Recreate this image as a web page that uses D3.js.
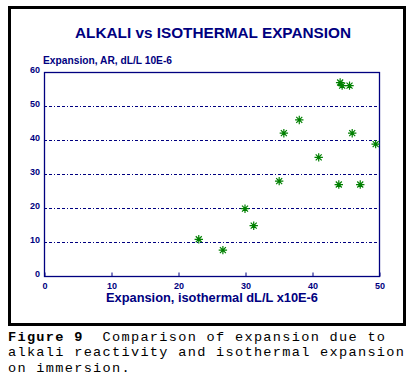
<!DOCTYPE html>
<html><head><meta charset="utf-8">
<script src="https://cdn.jsdelivr.net/npm/d3@7"></script>
<style>body{margin:0;background:#fff}svg{display:block}</style>
</head><body>
<script>
const isothermal = [23.1, 26.7, 30.0, 31.3, 35.1, 35.8, 38.1, 41.0, 44.0, 44.2, 44.5, 45.6, 46.0, 47.2, 49.5];
const alkali     = [10.8,  7.6, 19.8, 14.8, 27.9, 42.0, 45.9, 34.9, 26.9, 56.9, 56.0, 56.0, 42.0, 26.9, 38.8];
const xTicks = [0, 10, 20, 30, 40, 50];
const yTicks = [0, 10, 20, 30, 40, 50, 60];
const gridValues = [10, 20, 30, 40, 50];
const titleText = "ALKALI vs ISOTHERMAL EXPANSION";
const yTitleText = "Expansion, AR, dL/L 10E-6";
const xTitleText = "Expansion, isothermal dL/L x10E-6";
const captionLines = [
  [["Figure 9", true], ["  Comparison of expansion due to", false]],
  [["alkali reactivity and isothermal expansion", false]],
  [["on immersion.", false]]
];

const W = 419, H = 381;
const navy = "#000080", green = "#008000";
const svg = d3.select("body").append("svg").attr("width", W).attr("height", H);

// outer frame
svg.append("rect").attr("x", 9.5).attr("y", 7.5).attr("width", 395).attr("height", 317)
  .attr("fill", "none").attr("stroke", "#000").attr("stroke-width", 3);

const L = 44, R = 379, T = 72, B = 276;
const x = d3.scaleLinear().domain([0, 50]).range([L, R]);
const y = d3.scaleLinear().domain([0, 60]).range([B, T]);

// grid
svg.append("g").selectAll("line").data(gridValues).join("line")
  .attr("x1", L).attr("x2", R).attr("y1", d => y(d) + 0.5).attr("y2", d => y(d) + 0.5)
  .attr("stroke", navy).attr("stroke-width", 1).attr("stroke-dasharray", "3,2,3,2,1,2");

// plot frame
svg.append("rect").attr("x", L + 0.5).attr("y", T + 0.5).attr("width", R - L).attr("height", B - T)
  .attr("fill", "none").attr("stroke", navy).attr("stroke-width", 1.3);

// x axis ticks (inward) and labels
const xAxis = d3.axisBottom(x).tickValues(xTicks).tickSize(-4).tickPadding(6).tickFormat(d3.format("d"));
const gx = svg.append("g").attr("transform", `translate(0.5,${B + 0.5})`).call(xAxis);
gx.select(".domain").remove();
gx.selectAll("line").attr("stroke", navy);
gx.selectAll("text").attr("fill", navy).attr("font-family", "Liberation Sans, Arial, sans-serif")
  .attr("font-weight", "bold").attr("font-size", 9);

// y axis labels
const yAxis = d3.axisLeft(y).tickValues(yTicks).tickSize(0).tickPadding(4).tickFormat(d3.format("d"));
const gy = svg.append("g").attr("transform", `translate(${L},-2)`).call(yAxis);
gy.select(".domain").remove();
gy.selectAll("text").attr("fill", navy).attr("font-family", "Liberation Sans, Arial, sans-serif")
  .attr("font-weight", "bold").attr("font-size", 9);

// title
svg.append("text").attr("x", 75).attr("y", 38).text(titleText)
  .attr("fill", navy).attr("font-family", "Liberation Sans, Arial, sans-serif").attr("font-weight", "bold")
  .attr("font-size", 15).attr("textLength", 276).attr("lengthAdjust", "spacingAndGlyphs");

svg.append("text").attr("x", 43).attr("y", 64).text(yTitleText)
  .attr("fill", navy).attr("font-family", "Liberation Sans, Arial, sans-serif").attr("font-weight", "bold")
  .attr("font-size", 10).attr("textLength", 129).attr("lengthAdjust", "spacingAndGlyphs");

svg.append("text").attr("x", 106).attr("y", 302).text(xTitleText)
  .attr("fill", navy).attr("font-family", "Liberation Sans, Arial, sans-serif").attr("font-weight", "bold")
  .attr("font-size", 12).attr("textLength", 212).attr("lengthAdjust", "spacingAndGlyphs");

// points as asterisks
const s = 4.2, d2 = 3;
const star = `M${-s},0L${s},0M0,${-s}L0,${s}M${-d2},${-d2}L${d2},${d2}M${-d2},${d2}L${d2},${-d2}`;
svg.append("g").selectAll("path").data(isothermal.map((v, i) => [v, alkali[i]])).join("path")
  .attr("transform", d => `translate(${x(d[0])},${y(d[1])})`)
  .attr("d", star).attr("stroke", green).attr("stroke-width", 1.2).attr("fill", "none");

// caption
const cap = svg.append("g");
captionLines.forEach((line, i) => {
  const t = cap.append("text").attr("x", 8).attr("y", 341 + i * 15.3)
    .attr("font-family", "Liberation Mono, Courier New, monospace").attr("font-size", 13.6)
    .attr("letter-spacing", 1.3)
    .attr("fill", "#000").attr("xml:space", "preserve").style("white-space", "pre");
  line.forEach(([txt, bold]) => t.append("tspan").text(txt).attr("font-weight", bold ? "bold" : "normal"));
});
</script>
</body></html>
